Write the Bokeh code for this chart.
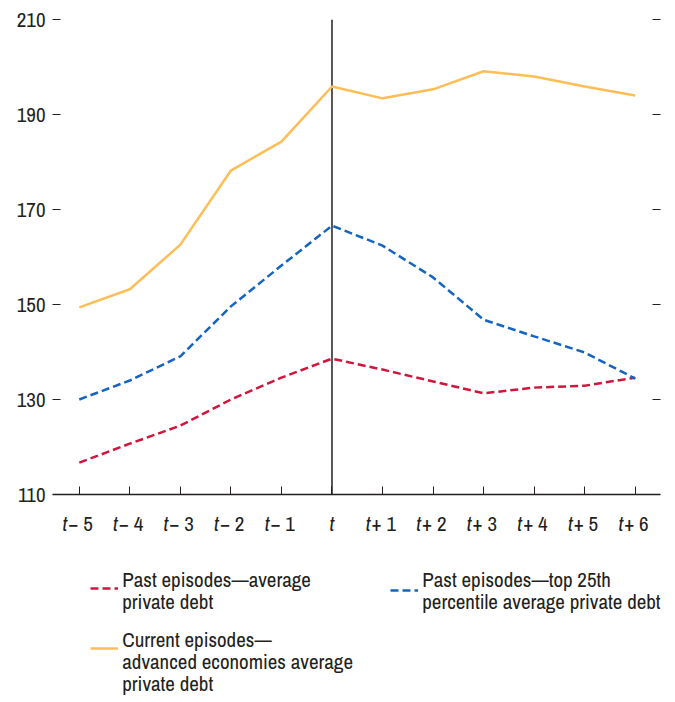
from bokeh.plotting import figure
from bokeh.models import (ColumnDataSource, FixedTicker, LinearAxis, Label,
                          Legend, LegendItem, Range1d)
from bokeh.embed import file_html
from bokeh.resources import INLINE

# ---- data ----
x_labels = ["t|− 5", "t|− 4", "t|− 3", "t|− 2", "t|− 1", "t|",
            "t|+ 1", "t|+ 2", "t|+ 3", "t|+ 4", "t|+ 5", "t|+ 6"]
past_avg = [116.7, 120.7, 124.5, 130.0, 134.6, 138.6, 136.3, 133.8, 131.3, 132.5, 132.9, 134.6]
past_top25 = [130.0, 134.0, 139.1, 149.6, 158.2, 166.6, 162.4, 155.7, 146.8, 143.3, 139.9, 134.4]
current_adv = [149.4, 153.2, 162.6, 178.2, 184.3, 195.9, 193.4, 195.3, 199.1, 198.0, 195.9, 194.0]
y_ticks = [110, 130, 150, 170, 190, 210]
event_index = 5

names = ["Past episodes—average\nprivate debt",
         "Past episodes—top 25th\npercentile average private debt",
         "Current episodes—\nadvanced economies average\nprivate debt"]

RED = "#D0163C"
BLUE = "#1565C0"
YEL = "#FDBE57"
INK = "#231F20"
FONT = "Archivo Narrow"
FS = "21px"

xs = list(range(len(x_labels)))
src = ColumnDataSource(dict(x=xs, a=past_avg, b=past_top25, c=current_adv))

# frame extends below the x axis so that labels and legend live inside it
PX_PER_UNIT = 4.75
y_bottom = y_ticks[0] - 208 / PX_PER_UNIT

p = figure(width=675, height=702, output_backend="svg", toolbar_location=None,
           x_range=Range1d(-0.53, 11.5), y_range=Range1d(y_bottom, y_ticks[-1]),
           min_border_left=52, min_border_right=15, min_border_top=19,
           min_border_bottom=0)
p.outline_line_color = None
p.grid.visible = False

# y axis (left)
ya = p.yaxis[0]
ya.ticker = FixedTicker(ticks=y_ticks)
ya.axis_line_color = None
ya.major_tick_in = 8
ya.major_tick_out = 0
ya.minor_tick_line_color = None
ya.major_tick_line_color = INK
ya.major_label_standoff = 7
ya.major_label_text_font = FONT
ya.major_label_text_font_size = FS
ya.major_label_text_color = INK

# right axis (ticks only)
ra = LinearAxis(ticker=FixedTicker(ticks=y_ticks))
ra.axis_line_color = None
ra.major_tick_in = 8
ra.major_tick_out = 0
ra.minor_tick_line_color = None
ra.major_tick_line_color = INK
ra.major_label_text_color = None
ra.major_label_text_font_size = "1px"
ra.major_label_standoff = 0
p.add_layout(ra, "right")

# x axis placed at y = 110
xa = p.xaxis[0]
xa.fixed_location = y_ticks[0]
xa.ticker = FixedTicker(ticks=xs)
xa.axis_line_color = INK
xa.axis_line_width = 1.5
xa.major_tick_in = 8
xa.major_tick_out = 0
xa.major_tick_line_color = INK
xa.minor_tick_line_color = None
xa.major_label_text_color = None
xa.major_label_text_font_size = "1px"
xa.major_label_standoff = 0

def add_label(i, xo, yo, text, align="left", style="normal"):
    p.add_layout(Label(x=i, y=y_ticks[0], x_offset=xo, y_offset=yo, text=text,
                       text_align=align, text_baseline="middle",
                       text_font=FONT, text_font_size=FS,
                       text_font_style=style, text_color=INK))

for i, lab in enumerate(x_labels):
    t, rest = lab.split("|")
    if rest:
        add_label(i, -12, -29, t, "right", "italic")
        add_label(i, -11, -29, rest, "left")
    else:
        add_label(i, 0, -29, t, "center", "italic")

# vertical marker at t
p.segment(x0=[event_index], y0=[y_ticks[0]], x1=[event_index], y1=[y_ticks[-1]],
          line_color=INK, line_width=1.5)

r_a = p.line("x", "a", source=src, line_color=RED, line_width=2.5, line_dash="8 4")
r_b = p.line("x", "b", source=src, line_color=BLUE, line_width=2.5, line_dash="8 4")
r_c = p.line("x", "c", source=src, line_color=YEL, line_width=2.5)

# legend: glyph samples via Legend, label lines as text
leg1 = Legend(items=[LegendItem(label="", renderers=[r_a]),
                     LegendItem(label="", renderers=[r_c])],
              location=(38, 44), orientation="vertical")
leg2 = Legend(items=[LegendItem(label="", renderers=[r_b])],
              location=(338, 102), orientation="vertical")
for lg in (leg1, leg2):
    lg.border_line_color = None
    lg.background_fill_alpha = 0
    lg.padding = 0
    lg.margin = 0
    lg.glyph_width = 28
    lg.glyph_height = 20
    lg.label_height = 20
    lg.label_width = 0
    lg.label_standoff = 0
    lg.spacing = 40
    lg.label_text_font_size = "1px"
    p.add_layout(lg, "center")

# legend text lines (offsets from the first category at y = 110)
legend_text_pos = [(43, -85), (343, -85), (43, -145)]
for name, (xo, yo) in zip(names, legend_text_pos):
    for k, line in enumerate(name.split("\n")):
        add_label(0, xo, yo - 22 * k, line, "left")

open("out.html", "w").write(file_html(p, INLINE))
